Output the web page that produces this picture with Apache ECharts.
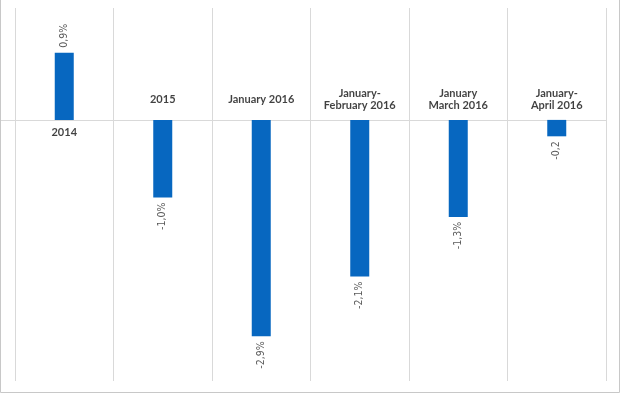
<!DOCTYPE html>
<html>
<head>
<meta charset="utf-8">
<script src="https://cdn.jsdelivr.net/npm/echarts@6/dist/echarts.min.js"></script>
<style>
html,body{margin:0;padding:0;background:#fff;}
#c{width:620px;height:393px;}
</style>
</head>
<body>
<div id="c"></div>
<script>
var categories = ["2014", "2015", "January 2016", "January-\nFebruary 2016", "January\nMarch 2016", "January-\nApril 2016"];
var values = [0.9, -1.04, -2.9, -2.1, -1.3, -0.22];
var valueLabels = ["0,9%", "-1,0%", "-2,9%", "-2,1%", "-1,3%", "-0,2"];

var chart = echarts.init(document.getElementById('c'), null, {renderer: 'canvas'});
var gridColor = '#d9d9d9';

var barData = values.map(function (v, i) {
  return {
    value: v,
    label: {
      formatter: valueLabels[i],
      position: v >= 0 ? 'top' : 'bottom',
      align: v >= 0 ? 'left' : 'right',
      verticalAlign: 'middle'
    }
  };
});

var catLabelData = categories.map(function (c, i) {
  return {
    value: [c, 0],
    label: {
      formatter: c,
      offset: values[i] >= 0 ? [0, 13] : [0, -20]
    }
  };
});

chart.setOption({
  animation: false,
  grid: {left: 15, right: 14, top: 8, bottom: 12, containLabel: false, outerBoundsMode: 'none'},
  xAxis: {
    type: 'category',
    data: categories,
    axisLine: {show: true, onZero: true, lineStyle: {color: gridColor, width: 1}},
    axisTick: {show: false, interval: 0},
    axisLabel: {show: false, interval: 0},
    splitLine: {show: true, interval: 0, lineStyle: {color: gridColor, width: 1}}
  },
  yAxis: {
    type: 'value',
    min: -3.5,
    max: 1.5,
    show: false,
    splitLine: {show: false}
  },
  series: [{
    type: 'bar',
    data: barData,
    barWidth: 19,
    itemStyle: {color: '#0767c0'},
    label: {
      show: true,
      rotate: 90,
      distance: 5,
      fontSize: 10.5,
      fontFamily: '"Liberation Sans Narrow", "DejaVu Sans Condensed", sans-serif',
      color: '#5a5a5a'
    }
  }, {
    type: 'scatter',
    data: catLabelData,
    symbolSize: 0,
    silent: true,
    label: {
      show: true,
      position: 'inside',
      align: 'center',
      verticalAlign: 'middle',
      fontFamily: 'Lato, "Liberation Sans", sans-serif',
      fontWeight: 'bold',
      fontSize: 11,
      lineHeight: 12,
      color: '#111'
    }
  }]
});

var zeroY = chart.convertToPixel({yAxisIndex: 0}, 0);
chart.setOption({
  graphic: [{
    type: 'line',
    shape: {x1: 1, y1: Math.round(zeroY) + 0.5, x2: 15, y2: Math.round(zeroY) + 0.5},
    style: {stroke: gridColor, lineWidth: 1},
    silent: true
  }, {
    type: 'rect',
    shape: {x: 0.5, y: -2, width: 619, height: 394.5},
    style: {stroke: '#c8c8c8', fill: 'none', lineWidth: 1},
    silent: true
  }]
});
</script>
</body>
</html>
